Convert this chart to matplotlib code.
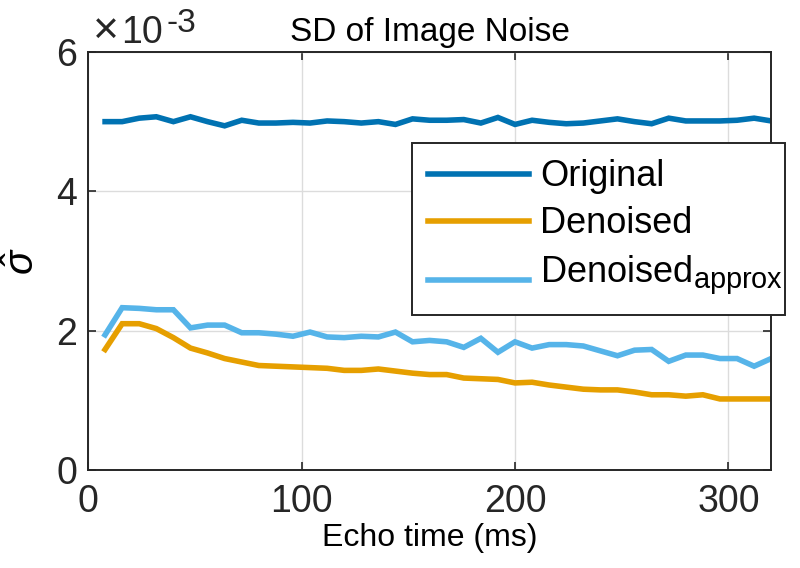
import matplotlib
matplotlib.use('Agg')
import matplotlib.pyplot as plt
import matplotlib._mathtext as mt
from matplotlib.patches import Rectangle

plt.rcParams['font.family'] = ['Liberation Sans', 'DejaVu Sans']
plt.rcParams['mathtext.fontset'] = 'custom'
plt.rcParams['mathtext.rm'] = 'Liberation Sans'
plt.rcParams['mathtext.it'] = 'Liberation Sans:italic'
# MATLAB's subscripts are less shrunk than mathtext's default
mt.SHRINK_FACTOR = 0.8

# echo times (ms)
echo_times = [8, 16, 24, 32, 40, 48, 56, 64, 72, 80,
              88, 96, 104, 112, 120, 128, 136, 144, 152, 160,
              168, 176, 184, 192, 200, 208, 216, 224, 232, 240,
              248, 256, 264, 272, 280, 288, 296, 304, 312, 320]

# noise SD, in units of 1e-3
sd_original = [5.00, 5.00, 5.05, 5.07, 5.00, 5.07, 5.00, 4.94, 5.02, 4.98,
               4.98, 4.99, 4.98, 5.01, 5.00, 4.98, 5.00, 4.96, 5.04, 5.02,
               5.02, 5.03, 4.98, 5.06, 4.96, 5.02, 4.99, 4.97, 4.98, 5.01,
               5.04, 5.00, 4.97, 5.05, 5.01, 5.01, 5.01, 5.02, 5.05, 5.01]
sd_denoised = [1.73, 2.10, 2.10, 2.03, 1.90, 1.75, 1.68, 1.60, 1.55, 1.50,
               1.49, 1.48, 1.47, 1.46, 1.43, 1.43, 1.45, 1.42, 1.39, 1.37,
               1.37, 1.32, 1.31, 1.30, 1.25, 1.26, 1.22, 1.19, 1.16, 1.15,
               1.15, 1.12, 1.08, 1.08, 1.06, 1.08, 1.02, 1.02, 1.02, 1.02]
sd_approx = [1.94, 2.33, 2.32, 2.30, 2.30, 2.04, 2.08, 2.08, 1.97, 1.97,
             1.95, 1.92, 1.98, 1.91, 1.90, 1.92, 1.91, 1.98, 1.84, 1.86,
             1.84, 1.76, 1.89, 1.69, 1.84, 1.75, 1.80, 1.80, 1.78, 1.71,
             1.64, 1.72, 1.73, 1.56, 1.65, 1.65, 1.60, 1.60, 1.49, 1.60]

series_labels = ['Original', 'Denoised', r'Denoised$_{\mathrm{approx}}$']
colors = ['#0072B2', '#E69F00', '#56B4E9']

fig = plt.figure(figsize=(8, 5.68), dpi=100)
ax = fig.add_axes([0.11, 0.1725, 0.854, 0.736])

for vals, lab, c in zip([sd_original, sd_denoised, sd_approx], series_labels, colors):
    ax.plot(echo_times, vals, color=c, lw=4, label=lab, solid_joinstyle='miter')

ax.set_xlim(0, 320)
ax.set_ylim(0, 6)
ax.set_xticks([0, 100, 200, 300])
ax.set_yticks([0, 2, 4, 6])
ax.grid(True, color='#dcdcdc', lw=1)
ax.set_axisbelow(True)
ax.tick_params(direction='in', length=6, width=1.2, colors='#262626',
               labelsize=27, top=True, right=True)
ax.tick_params(axis='x', pad=10)
ax.tick_params(axis='y', pad=8)
for s in ax.spines.values():
    s.set_color('#262626')
    s.set_linewidth(1.4)

ax.set_title('SD of Image Noise', fontsize=24, pad=8)
ax.set_xlabel('Echo time (ms)', fontsize=23, labelpad=2)
ax.set_ylabel(r'$\hat{\sigma}$', fontsize=29)
ax.yaxis.set_label_coords(-0.068, 0.5)

# exponent label
fig.text(93 / 800, 1 - 43 / 568, '\u00d7', fontsize=32, color='#262626')
fig.text(121 / 800, 1 - 43 / 568, '10', fontsize=27, color='#262626')
fig.text(167 / 800, 1 - 32 / 568, '-3', fontsize=24, color='#262626')

# legend: tight MATLAB-like box drawn separately, sticks out past the axes
ax.add_patch(Rectangle((412 / 800, 1 - 315 / 568), 373 / 800, 172 / 568,
                       transform=fig.transFigure, facecolor='white',
                       edgecolor='#262626', lw=1.4, zorder=4.5, clip_on=False))
leg = ax.legend(loc='upper left', bbox_to_anchor=(411.7 / 800, 1 - 143 / 568),
                bbox_transform=fig.transFigure, fontsize=26, frameon=False,
                handlelength=2.8, handletextpad=0.3, labelspacing=0.33,
                borderpad=0.45, borderaxespad=0)
# centre the third handle on the main text, not the subscript box
ln = leg.get_lines()[2]
ln.set_ydata(ln.get_ydata() - 8)

fig.savefig('out.png', dpi=100)
